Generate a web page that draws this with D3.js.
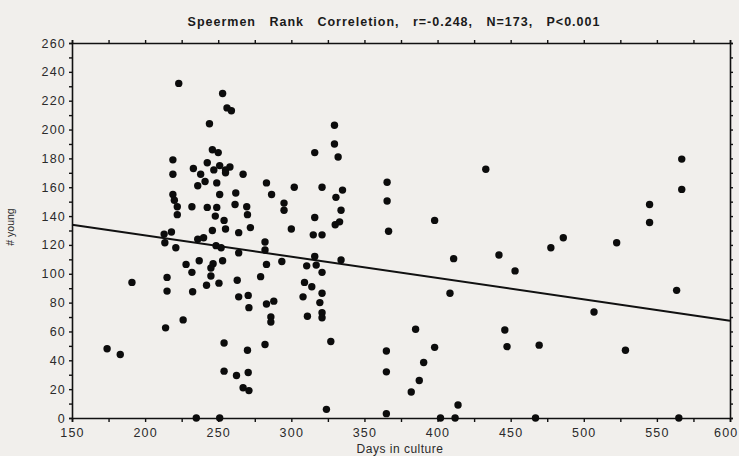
<!DOCTYPE html>
<html>
<head>
<meta charset="utf-8">
<script src="https://cdn.jsdelivr.net/npm/d3@7"></script>
<style>
  body { margin: 0; background: #f1efec; }
  svg { display: block; }
</style>
</head>
<body>
<div id="chart"></div>
<script>
// data
const days = [174, 183, 191, 223, 253, 256, 259, 244, 246, 250, 219, 219, 233, 242.5, 238, 247, 251, 255, 258, 255,
  267, 241, 236, 249, 251, 262, 219, 220, 222, 222, 232, 242.5, 249, 248, 261.5, 269.5, 270, 254, 246, 255,
  264, 272, 213, 218, 236, 213.5, 221, 240, 248.5, 252, 264, 228, 237, 246.5, 245, 253, 232, 215, 245, 242,
  250.5, 263, 279, 215, 232.5, 264, 270.5, 271, 226, 214, 254, 270, 254, 262.5, 270.5, 267, 271, 235, 251,
  329.5, 329.5, 332, 316, 283, 286.5, 302, 321, 335, 330.5, 295, 295, 334, 316, 300, 330, 333, 315, 321,
  282, 282, 283, 293.5, 316, 310.5, 317, 321, 334, 309, 314, 321, 308, 319.5, 283, 288, 286, 286, 321, 321,
  311, 282, 327, 324, 365.5, 365.5, 366.5, 398, 411, 408.5, 385, 365, 398, 365, 390.5, 387.5, 382, 414, 365,
  402, 412, 433, 567, 567, 545, 545, 486, 477.5, 522.5, 442, 453, 563.5, 507, 446, 447.5, 469.5, 528.5, 467, 565];
const young = [48, 44, 94, 232, 225, 215, 213, 204, 186, 184, 179, 169, 173, 177, 169, 172, 175, 172, 174, 170,
  169, 164, 161, 163, 155, 156, 155, 151, 146.5, 141, 146.5, 146, 146, 140, 148, 146.5, 141, 137, 130, 131,
  128.5, 132, 127.5, 129, 124, 121.5, 118, 125, 119.5, 118, 114.5, 106.5, 109, 107, 104, 109, 101, 97.5, 98.5, 92,
  93.5, 95.5, 98, 88, 87.5, 84, 85, 76.5, 68, 62.5, 52, 47, 32.5, 29.5, 31.5, 21, 19, 0, 0,
  203, 190, 181, 184, 163, 155, 160, 160, 158, 153, 149, 144, 144, 139, 131, 134, 136, 127, 127,
  122, 116.5, 106.5, 108.5, 112, 105.5, 106, 101, 109.5, 94, 91, 86.5, 84, 80, 79, 81, 70, 66.5, 73, 69.5,
  70.5, 51, 53, 6, 163.5, 150.5, 129.5, 137, 110.5, 86.5, 61.5, 46.5, 49, 32, 38.5, 26, 18, 9, 3,
  0, 0, 172.5, 179.5, 158.5, 148, 135.5, 125, 118, 121.5, 113, 102, 88.5, 73.5, 61, 49.5, 50.5, 47, 0, 0];

// fitted line end points
const fitDays = [150, 600];
const fitYoung = [134, 67.5];

const xTicks = d3.range(150, 601, 50);
const xMinor = d3.range(150, 601, 25);
const yTicks = d3.range(0, 261, 20);
const yMinor = d3.range(0, 261, 10);

const width = 739, height = 456;
const margin = { top: 43, right: 9, bottom: 38, left: 72 };

const svg = d3.select("#chart").append("svg")
  .attr("width", width)
  .attr("height", height)
  .style("background", "#f1efec");

const x = d3.scaleLinear().domain([150, 600]).range([margin.left, width - margin.right]);
const y = d3.scaleLinear().domain([0, 260]).range([height - margin.bottom, margin.top]);

const tickFont = "'Liberation Sans', Arial, sans-serif";

// bottom axis
const xAxis = svg.append("g")
  .attr("transform", `translate(0,${y(0)})`)
  .call(d3.axisBottom(x).tickValues(xMinor).tickSize(4).tickFormat(d => xTicks.includes(d) ? d : ""));
// top axis (ticks only)
svg.append("g")
  .attr("transform", `translate(0,${y(260)})`)
  .call(d3.axisTop(x).tickValues(xMinor).tickSize(3).tickFormat(""));
// left axis
const yAxis = svg.append("g")
  .attr("transform", `translate(${x(150)},0)`)
  .call(d3.axisLeft(y).tickValues(yMinor).tickSize(3).tickFormat(d => yTicks.includes(d) ? d : ""));
// right axis (ticks only)
svg.append("g")
  .attr("transform", `translate(${x(600)},0)`)
  .call(d3.axisRight(y).tickValues(yMinor).tickSize(3).tickFormat(""));

svg.selectAll(".domain").attr("stroke", "#111").attr("stroke-width", 1.6);
svg.selectAll(".tick line").attr("stroke", "#111").attr("stroke-width", 1.4);
svg.selectAll(".tick text")
  .attr("font-family", tickFont)
  .attr("font-size", 12.5)
  .attr("letter-spacing", 1.2)
  .attr("fill", "#2a2a2a");
xAxis.selectAll(".tick text").attr("dy", "0.95em");
// keep the last label inside the frame
xAxis.selectAll(".tick text").filter(d => d === 600).attr("text-anchor", "end").attr("x", 8);
yAxis.selectAll(".tick text").attr("x", -6);

// regression line
svg.append("line")
  .attr("x1", x(fitDays[0])).attr("y1", y(fitYoung[0]))
  .attr("x2", x(fitDays[1])).attr("y2", y(fitYoung[1]))
  .attr("stroke", "#111")
  .attr("stroke-width", 2);

// points
svg.selectAll(".pt")
  .data(days.map((d, i) => [d, young[i]]))
  .enter().append("circle")
  .attr("class", "pt")
  .attr("cx", d => x(d[0]))
  .attr("cy", d => y(d[1]))
  .attr("r", 3.7)
  .attr("fill", "#0c0c0c");

// title
svg.append("text")
  .attr("x", 394)
  .attr("y", 26)
  .attr("text-anchor", "middle")
  .attr("font-family", tickFont)
  .attr("font-weight", "bold")
  .attr("font-size", 12.5)
  .attr("letter-spacing", 1)
  .style("white-space", "pre")
  .attr("fill", "#1a1a1a")
  .text("Speermen   Rank   Correletion,   r=-0.248,   N=173,   P<0.001");

// axis titles
svg.append("text")
  .attr("x", 400)
  .attr("y", 453)
  .attr("text-anchor", "middle")
  .attr("font-family", tickFont)
  .attr("font-size", 12)
  .attr("letter-spacing", 0.5)
  .attr("fill", "#2a2a2a")
  .text("Days in culture");

svg.append("text")
  .attr("transform", "translate(14,227) rotate(-90)")
  .attr("text-anchor", "middle")
  .attr("font-family", tickFont)
  .attr("font-size", 10.5)
  .attr("fill", "#2a2a2a")
  .text("# young");
</script>
</body>
</html>
